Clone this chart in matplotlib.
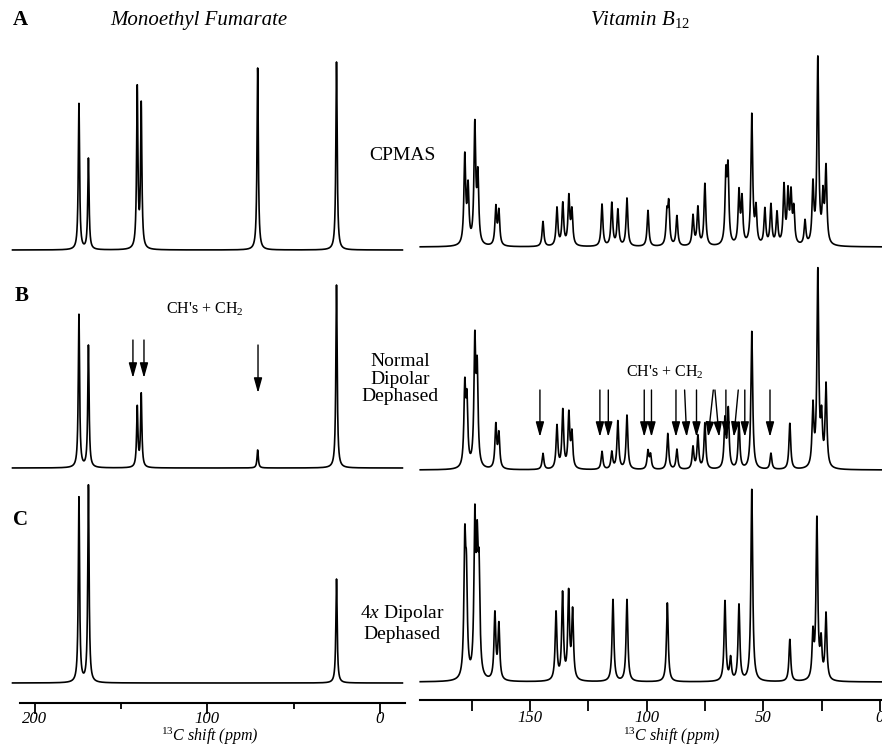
import numpy as np
import matplotlib.pyplot as plt

plt.rcParams['font.family'] = 'Liberation Serif'
plt.rcParams['mathtext.fontset'] = 'custom'
plt.rcParams['mathtext.rm'] = 'Liberation Serif'
plt.rcParams['mathtext.it'] = 'Liberation Serif:italic'
plt.rcParams['mathtext.bf'] = 'Liberation Serif:bold'

W, H = 882, 748

# monoethyl fumarate: peak positions (ppm) and heights above baseline
mef_ppm = [174.5, 169.0, 140.7, 138.4, 70.9, 25.2]
mef_cpmas = [146, 91, 160, 143, 182, 188]
mef_normal = [153, 122, 60, 73, 18, 183]
mef_4x = [185, 197, 0, 0, 0, 104]

# vitamin B12 peaks, one list per experiment
b12_cpmas_ppm = [177.9, 176.5, 173.6, 172.3, 164.6, 163.3, 144.4, 138.4, 135.9, 133.3,
                 132.0, 119.1, 114.9, 112.3, 108.4, 99.4, 91.3, 90.5, 87.0, 80.1,
                 78.0, 75.0, 66.0, 65.1, 60.4, 59.1, 54.9, 53.1, 49.3, 46.7,
                 44.1, 41.1, 39.4, 38.1, 36.9, 32.1, 28.7, 26.6, 24.4, 23.1]
b12_cpmas_h = [88, 55, 118, 66, 38, 34, 25, 38, 42, 48,
               34, 42, 43, 36, 48, 36, 30, 40, 30, 30,
               38, 62, 66, 72, 52, 45, 130, 35, 36, 40,
               32, 58, 50, 48, 34, 24, 58, 185, 45, 75]
b12_normal_ppm = [177.9, 177.0, 173.6, 172.6, 164.6, 163.3, 144.4, 138.4, 135.9, 133.3,
                  132.0, 119.1, 114.9, 112.3, 108.4, 99.4, 98.3, 90.9, 87.0, 80.1,
                  78.0, 75.0, 66.4, 65.0, 60.4, 54.9, 46.7, 38.6, 28.7, 26.6,
                  25.0, 23.1]
b12_normal_h = [78, 62, 122, 92, 43, 34, 16, 43, 58, 54,
                34, 18, 17, 48, 54, 18, 14, 36, 20, 22,
                33, 46, 48, 58, 46, 138, 16, 46, 60, 195,
                45, 82]
b12_4x_ppm = [177.9, 177.2, 173.6, 172.6, 171.8, 165.0, 163.3, 138.8, 136.0, 133.4,
              131.7, 114.4, 108.4, 91.1, 66.4, 64.0, 60.4, 54.9, 38.6, 28.7,
              27.0, 25.2, 23.1]
b12_4x_h = [128, 88, 150, 112, 95, 66, 55, 68, 86, 86,
            68, 82, 82, 79, 80, 22, 76, 192, 42, 44,
            160, 36, 66]

# dephasing arrows (ppm): tail and tip positions
mef_arrow_tail = [143.2, 136.8, 70.7]
mef_arrow_tip = [143.2, 136.8, 70.7]
b12_arrow_tail = [145.7, 120.0, 116.4, 101.0, 97.9, 87.4, 83.7, 78.6, 71.4, 70.7,
                  66.0, 60.7, 57.9, 47.1]
b12_arrow_tip = [145.7, 120.0, 116.4, 101.0, 97.9, 87.4, 82.8, 78.6, 73.6, 68.9,
                 66.0, 62.6, 57.9, 47.1]


def spectrum(x, ppm, hgt, w):
    y = np.zeros_like(x)
    for p, a in zip(ppm, hgt):
        y += a / (1 + ((x - p) / w) ** 2)
    return y


def px(x, y):
    return x / W, 1 - y / H


fig = plt.figure(figsize=(W / 100, H / 100), dpi=100)

axL = fig.add_axes([12 / W, 45 / H, 393 / W, 703 / H])
axR = fig.add_axes([420 / W, 48 / H, 462 / W, 700 / H])
axL.set_xlim(213.3, -14.5)
axL.set_ylim(0, 703)
axR.set_xlim(197.1, -0.9)
axR.set_ylim(0, 700)

xl = np.linspace(213, -13, 6000)
xr = np.linspace(197, -1, 6000)

# baselines in axes units
for base, h in zip([453, 235, 20], [mef_cpmas, mef_normal, mef_4x]):
    axL.plot(xl, base + spectrum(xl, mef_ppm, h, 0.45), color='black', lw=1.2, clip_on=False)
for base, p, h in zip([453, 230, 18],
                      [b12_cpmas_ppm, b12_normal_ppm, b12_4x_ppm],
                      [b12_cpmas_h, b12_normal_h, b12_4x_h]):
    axR.plot(xr, base + spectrum(xr, p, h, 0.45), color='black', lw=1.2, clip_on=False)

arrow = dict(arrowstyle='-|>,head_length=0.9,head_width=0.25', color='black',
             lw=1.0, shrinkA=0, shrinkB=0)
for i, (a, b) in enumerate(zip(mef_arrow_tail, mef_arrow_tip)):
    y0, y1 = (363, 325) if i < 2 else (358, 310)
    axL.annotate('', xy=(b, y1), xytext=(a, y0), arrowprops=arrow)
for a, b in zip(b12_arrow_tail, b12_arrow_tip):
    axR.annotate('', xy=(b, 263), xytext=(a, 310), arrowprops=arrow)

for ax in (axL, axR):
    for s in ('left', 'right', 'top'):
        ax.spines[s].set_visible(False)
    ax.spines['bottom'].set_linewidth(1.5)
    ax.set_yticks([])
    ax.patch.set_alpha(0)
    ax.tick_params(axis='x', which='both', direction='out', width=1.3, pad=-1, labelsize=12)

axL.spines['bottom'].set_bounds(208.7, -14.5)
axL.set_xticks([200, 100, 0])
axL.set_xticks([150, 50], minor=True)
axL.tick_params(axis='x', which='major', length=8, pad=-2)
axL.tick_params(axis='x', which='minor', length=4)
axR.set_xticks([150, 100, 50, 0])
axR.set_xticks([175, 125, 75, 25], minor=True)
axR.tick_params(axis='x', which='both', length=8)
for ax in (axL, axR):
    for lab in ax.get_xticklabels():
        lab.set_fontstyle('italic')

# axis titles
xlab = '$^{\\mathit{13}}$C shift (ppm)'
fig.text(*px(210, 747), xlab, fontsize=11.5, fontstyle='italic', ha='center', va='bottom')
fig.text(*px(672, 747), xlab, fontsize=11.5, fontstyle='italic', ha='center', va='bottom')

# labels
fig.text(*px(20, 20), 'A', fontsize=15, fontweight='bold', ha='center', va='center')
fig.text(*px(22, 296), 'B', fontsize=15, fontweight='bold', ha='center', va='center')
fig.text(*px(20, 520), 'C', fontsize=15, fontweight='bold', ha='center', va='center')
fig.text(*px(199, 20), 'Monoethyl Fumarate', fontsize=15, fontstyle='italic', ha='center', va='center')
fig.text(*px(640, 20), 'Vitamin B$_{\\mathit{12}}$', fontsize=15, fontstyle='italic', ha='center', va='center')
fig.text(*px(402, 155), 'CPMAS', fontsize=14, ha='center', va='center')
fig.text(*px(400, 379), 'Normal\nDipolar\nDephased', fontsize=14, ha='center', va='center',
         linespacing=1.05)
fig.text(*px(402, 623), '$\\mathit{4x}$ Dipolar\nDephased', fontsize=14, ha='center', va='center',
         linespacing=1.1)
fig.text(*px(205, 309), "CH's + CH$_2$", fontsize=11.5, ha='center', va='center')
fig.text(*px(665, 372), "CH's + CH$_2$", fontsize=11.5, ha='center', va='center')

fig.savefig('out.png', dpi=100)
